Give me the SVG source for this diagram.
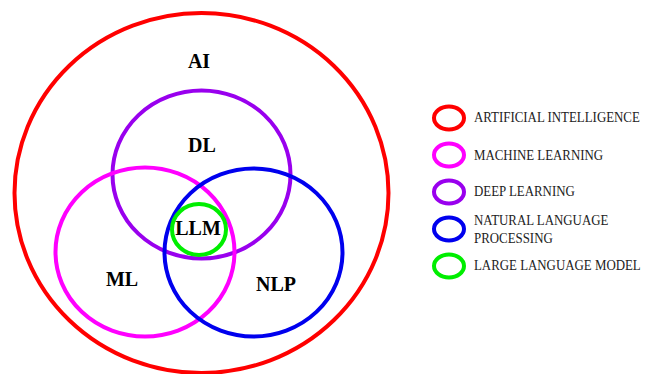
<svg xmlns="http://www.w3.org/2000/svg" width="648" height="374" viewBox="0 0 648 374">
<style>
.c{fill:none;stroke-width:4}
.lg{fill:none;stroke-width:4}
.lbl{font-family:"Liberation Serif",serif;font-weight:bold;font-size:20px;fill:#000;text-anchor:middle}
.lt{font-family:"Liberation Serif",serif;font-size:15px;fill:#222}
</style>
<rect width="648" height="374" fill="#fff"/>
<g id="ai"><ellipse class="c" cx="201.5" cy="193" rx="187" ry="180" stroke="#ff0000"/><text class="lbl" x="199" y="68">AI</text></g>
<g id="dl"><ellipse class="c" cx="201.5" cy="174.5" rx="89" ry="84" stroke="#9900ee"/><text class="lbl" x="202" y="152">DL</text></g>
<g id="ml"><ellipse class="c" cx="145" cy="252" rx="89.5" ry="84.5" stroke="#ff00ff"/><text class="lbl" x="122" y="286">ML</text></g>
<g id="nlp"><ellipse class="c" cx="253.5" cy="252.5" rx="89" ry="84" stroke="#0000ee"/><text class="lbl" x="276" y="291">NLP</text></g>
<g id="llm"><ellipse class="c" cx="199" cy="229.5" rx="27" ry="25.5" stroke="#00ee00" stroke-width="3.5"/><text class="lbl" x="198" y="235">LLM</text></g>
<g id="legend">
<g id="leg-ai"><ellipse class="lg" cx="449" cy="118" rx="15" ry="11.5" stroke="#ff0000"/><text class="lt" transform="translate(474 122) scale(0.86 1)">ARTIFICIAL INTELLIGENCE</text></g>
<g id="leg-ml"><ellipse class="lg" cx="449" cy="155" rx="15" ry="11.5" stroke="#ff00ff"/><text class="lt" transform="translate(474 160) scale(0.86 1)">MACHINE LEARNING</text></g>
<g id="leg-dl"><ellipse class="lg" cx="449" cy="192" rx="15" ry="11.5" stroke="#9900ee"/><text class="lt" transform="translate(474 196) scale(0.86 1)">DEEP LEARNING</text></g>
<g id="leg-nlp"><ellipse class="lg" cx="449" cy="229" rx="15" ry="11.5" stroke="#0000ee"/><text class="lt" transform="translate(474 225) scale(0.86 1)">NATURAL LANGUAGE</text><text class="lt" transform="translate(474 243) scale(0.86 1)">PROCESSING</text></g>
<g id="leg-llm"><ellipse class="lg" cx="449" cy="266" rx="15" ry="11.5" stroke="#00ee00"/><text class="lt" transform="translate(474 270) scale(0.86 1)">LARGE LANGUAGE MODEL</text></g>
</g>
<g id="connectors"/>
</svg>
